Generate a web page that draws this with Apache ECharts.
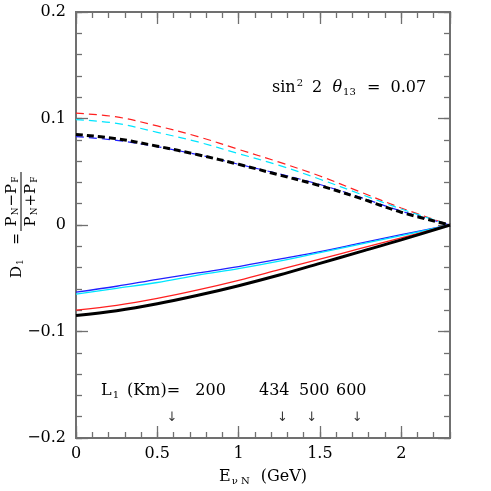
<!DOCTYPE html>
<html>
<head>
<meta charset="utf-8">
<script src="https://cdn.jsdelivr.net/npm/echarts@6/dist/echarts.min.js"></script>
<style>
  html, body { margin: 0; padding: 0; background: #fff; }
  #chart { width: 491px; height: 491px; }
</style>
</head>
<body>
<div id="chart"></div>
<script>
// neutrino energy (GeV)
var energy = [0, 0.25, 0.5, 0.75, 1.0, 1.25, 1.5, 1.75, 2.0, 2.3]

// dashed curves (upper branch)
var redDashed   = [0.105, 0.1015, 0.093, 0.083, 0.071, 0.059, 0.046, 0.031, 0.016, 0]
var cyanDashed  = [0.099, 0.0955, 0.087, 0.078, 0.067, 0.056, 0.043, 0.029, 0.015, 0]
var blueDashed  = [0.083, 0.0795, 0.0735, 0.066, 0.057, 0.048, 0.038, 0.026, 0.013, 0]
var blackDashed = [0.085, 0.081, 0.074, 0.066, 0.057, 0.047, 0.037, 0.025, 0.012, 0]

// solid curves (lower branch)
var blueSolid   = [-0.063, -0.0575, -0.051, -0.045, -0.039, -0.032, -0.025, -0.017, -0.009, 0]
var cyanSolid   = [-0.065, -0.0595, -0.054, -0.047, -0.041, -0.034, -0.026, -0.018, -0.010, 0]
var redSolid    = [-0.080, -0.0755, -0.069, -0.061, -0.052, -0.042, -0.032, -0.022, -0.012, 0]
var blackSolid  = [-0.085, -0.0805, -0.074, -0.066, -0.057, -0.047, -0.036, -0.025, -0.014, 0]

// baseline markers (arrows) for L1
var arrowE = [0.59, 1.27, 1.45, 1.73]
var arrowY = -0.181

var font = 'DejaVu Serif'
var axisGray = '#707070'

function pairs(ys) {
  return energy.map(function (x, i) { return [x, ys[i]] })
}

function curve(name, ys, color, width, dashed) {
  return {
    name: name,
    type: 'line',
    data: pairs(ys),
    smooth: 0.35,
    showSymbol: false,
    symbol: 'none',
    z: width > 2 ? 5 : 3,
    lineStyle: {
      color: color,
      width: width,
      type: dashed ? (width > 2 ? [7, 4] : [8, 5]) : 'solid'
    },
    animation: false
  }
}

function xAx(pos, len, step, labels) {
  return {
    type: 'value', min: 0, max: 2.3, interval: step, position: pos,
    axisLine: { show: true, onZero: false, lineStyle: { color: axisGray, width: 2 } },
    axisTick: { show: true, inside: true, length: len, lineStyle: { color: axisGray, width: 1.3 } },
    axisLabel: {
      show: labels, margin: 8, color: '#000', fontFamily: font, fontSize: 16,
      showMaxLabel: false,
      formatter: function (v) { return Math.abs(v * 2 - Math.round(v * 2)) < 1e-6 ? String(+v.toFixed(1)) : '' }
    },
    splitLine: { show: false }
  }
}

function yAx(pos, len, step, labels) {
  return {
    type: 'value', min: -0.2, max: 0.2, interval: step, position: pos,
    axisLine: { show: true, onZero: false, lineStyle: { color: axisGray, width: 2 } },
    axisTick: { show: true, inside: true, length: len, lineStyle: { color: axisGray, width: 1.3 } },
    axisLabel: {
      show: labels, margin: 10, color: '#000', fontFamily: font, fontSize: 16,
      formatter: function (v) {
        if (Math.abs(v) < 1e-9) return '0'
        return (v < 0 ? '\u2212' : '') + Math.abs(v).toFixed(1)
      }
    },
    splitLine: { show: false }
  }
}

var chart = echarts.init(document.getElementById('chart'))

var xAxes = [xAx('bottom', 12, 0.5, true), xAx('bottom', 6, 0.1, false), xAx('top', 12, 0.5, false), xAx('top', 6, 0.1, false)]
var yAxes = [yAx('left', 12, 0.1, true), yAx('left', 6, 0.02, false), yAx('right', 12, 0.1, false), yAx('right', 6, 0.02, false)]

xAxes[0].name = '{e|E}{s|\u03bd N}{e| (GeV)}'
xAxes[0].nameLocation = 'middle'
xAxes[0].nameGap = 30
xAxes[0].nameTextStyle = {
  rich: {
    e: { fontFamily: font, fontSize: 16, color: '#000' },
    s: { fontFamily: font, fontSize: 10, color: '#000', verticalAlign: 'bottom', padding: [8, 6, 0, 1] }
  }
}

var sub = { fontFamily: font, fontSize: 10, fill: '#000', verticalAlign: 'bottom', padding: [9, 3, 0, 1] }

chart.setOption({
  backgroundColor: '#fff',
  animation: false,
  grid: { left: 76, right: 41, top: 12, bottom: 47, containLabel: false },
  xAxis: xAxes,
  yAxis: yAxes,
  series: [
    curve('red dashed', redDashed, '#ff2020', 1.2, true),
    curve('cyan dashed', cyanDashed, '#00e5ff', 1.2, true),
    curve('blue dashed', blueDashed, '#2020ff', 1.2, true),
    curve('black dashed', blackDashed, '#000', 3, true),
    curve('blue solid', blueSolid, '#2020ff', 1.3, false),
    curve('cyan solid', cyanSolid, '#00e5ff', 1.3, false),
    curve('red solid', redSolid, '#ff2020', 1.3, false),
    curve('black solid', blackSolid, '#000', 3, false),
    {
      name: 'arrows',
      type: 'scatter',
      data: arrowE.map(function (e) { return [e, arrowY] }),
      symbolSize: 1,
      itemStyle: { color: 'rgba(0,0,0,0)' },
      label: {
        show: true, position: 'inside', formatter: '\u2193',
        fontFamily: 'DejaVu Sans', fontSize: 13, color: '#000'
      },
      silent: true
    }
  ],
  graphic: [
    {
      type: 'text', left: 272, top: 78,
      style: {
        text: '{n|sin}{p|2}{n| 2  }{t|\u03b8}{b|13}{n| =  0.07}',
        rich: {
          n: { fontFamily: font, fontSize: 16, fill: '#000' },
          p: { fontFamily: font, fontSize: 10, fill: '#000', verticalAlign: 'top', padding: [0, 4, 8, 1] },
          t: { fontFamily: font, fontSize: 16, fontStyle: 'italic', fill: '#000' },
          b: { fontFamily: font, fontSize: 10, fill: '#000', verticalAlign: 'bottom', padding: [9, 6, 0, 1] }
        }
      }
    },
    {
      type: 'text', left: 101, top: 383,
      style: {
        text: '{n|L}{b|1}{n| (Km)=   200}',
        rich: { n: { fontFamily: font, fontSize: 16, fill: '#000' }, b: sub }
      }
    },
    { type: 'text', left: 259, top: 383, style: { text: '434', fontFamily: font, fontSize: 16, fill: '#000' } },
    { type: 'text', left: 299, top: 383, style: { text: '500', fontFamily: font, fontSize: 16, fill: '#000' } },
    { type: 'text', left: 336, top: 383, style: { text: '600', fontFamily: font, fontSize: 16, fill: '#000' } },
    {
      // rotated y-axis label: D1 = (PN - PF)/(PN + PF)
      type: 'group', x: 21, y: 240, rotation: Math.PI / 2,
      children: [
        {
          type: 'text', x: -38, y: -4,
          style: {
            text: '{n|D}{b|1}',
            verticalAlign: 'middle',
            rich: {
              n: { fontFamily: font, fontSize: 15, fill: '#000' },
              b: { fontFamily: font, fontSize: 9, fill: '#000', verticalAlign: 'bottom', padding: [8, 2, 0, 1] }
            }
          }
        },
        {
          type: 'text', x: 1, y: -4,
          style: { text: '=', align: 'center', verticalAlign: 'middle', fontFamily: font, fontSize: 14, fill: '#000' }
        },
        {
          type: 'text', x: 39, y: -1,
          style: {
            text: '{n|P}{b|N}{n|\u2212P}{b|F}',
            align: 'center', verticalAlign: 'bottom',
            rich: {
              n: { fontFamily: font, fontSize: 15, fill: '#000' },
              b: { fontFamily: font, fontSize: 9, fill: '#000', verticalAlign: 'bottom', padding: [7, 1, 0, 1] }
            }
          }
        },
        { type: 'line', shape: { x1: 9, y1: 0, x2: 68, y2: 0 }, style: { stroke: '#000', lineWidth: 1 } },
        {
          type: 'text', x: 39, y: 2,
          style: {
            text: '{n|P}{b|N}{n|+P}{b|F}',
            align: 'center', verticalAlign: 'top',
            rich: {
              n: { fontFamily: font, fontSize: 15, fill: '#000' },
              b: { fontFamily: font, fontSize: 9, fill: '#000', verticalAlign: 'bottom', padding: [7, 1, 0, 1] }
            }
          }
        }
      ]
    }
  ]
})
</script>
</body>
</html>
